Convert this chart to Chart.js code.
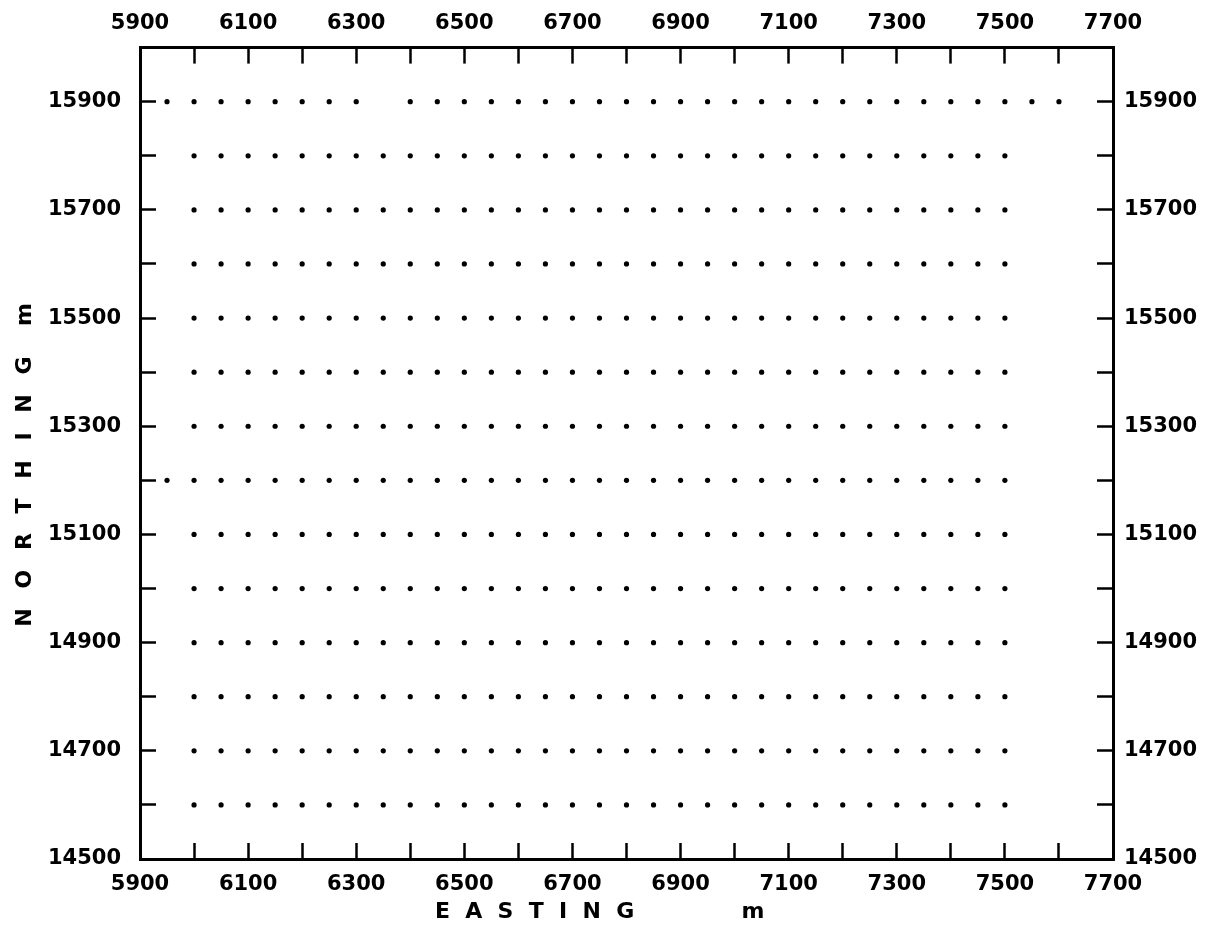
<!DOCTYPE html>
<html>
<head>
<meta charset="utf-8">
<script src="https://cdn.jsdelivr.net/npm/chart.js@4/dist/chart.umd.min.js"></script>
<style>
  html, body { margin: 0; padding: 0; background: #fff; }
</style>
</head>
<body>
<canvas id="survey-chart" width="1218" height="933"></canvas>
<script>
// Survey stations (metres)
const northings = [15900, 15800, 15700, 15600, 15500, 15400, 15300, 15200, 15100, 15000, 14900, 14800, 14700, 14600];

// Stations on a normal line
const lineEastings = [6000, 6050, 6100, 6150, 6200, 6250, 6300, 6350, 6400, 6450, 6500, 6550, 6600, 6650, 6700, 6750,
    6800, 6850, 6900, 6950, 7000, 7050, 7100, 7150, 7200, 7250, 7300, 7350, 7400, 7450, 7500];

// Line 15900 is longer and has a gap at 6350
const topLineEastings = [5950, 6000, 6050, 6100, 6150, 6200, 6250, 6300, 6400, 6450, 6500, 6550, 6600, 6650, 6700,
    6750, 6800, 6850, 6900, 6950, 7000, 7050, 7100, 7150, 7200, 7250, 7300, 7350, 7400, 7450, 7500, 7550, 7600];

// Line 15200 has one more station to the west
const line15200Extra = [5950];

// Labelled ticks
const eastingLabels = [5900, 6100, 6300, 6500, 6700, 6900, 7100, 7300, 7500, 7700];
const northingLabels = [14500, 14700, 14900, 15100, 15300, 15500, 15700, 15900];

const black = '#000';
const fontFamily = "'DejaVu Sans', sans-serif";
const tickFont = { family: fontFamily, size: 21, weight: 'bold' };
const titleFont = { family: fontFamily, size: 22, weight: 'bold' };

// Build point list from the station arrays
const stations = [];
for (const n of northings) {
    let eastings = n === 15900 ? topLineEastings : lineEastings;
    if (n === 15200) eastings = line15200Extra.concat(eastings);
    for (const e of eastings) stations.push({ x: e, y: n });
}

// Spaced-out axis titles (trailing spaces nudge the text off centre like the original)
const sp = (k) => ' '.repeat(k);
const eastingTitle = ['E', 'A', 'S', 'T', 'I', 'N', 'G'].join(sp(2)) + sp(14) + 'm' + sp(7);
const northingTitle = ['N', 'O', 'R', 'T', 'H', 'I', 'N', 'G'].join(sp(2) + '\u2009') + sp(4) + 'm' + sp(3);

/**
 * Axis with a heavy frame line and short ticks pointing into the plot
 */
function frameAxis(axis, position, min, max, labels, labelPadding, size) {
    return {
        type: 'linear',
        axis,
        position,
        min,
        max,
        border: { display: true, color: black, width: 3 },
        grid: {
            drawOnChartArea: false,
            drawTicks: true,
            tickLength: -16,
            tickColor: black,
            tickWidth: 2.5
        },
        ticks: {
            stepSize: 100,
            autoSkip: false,
            maxTicksLimit: 100,
            maxRotation: 0,
            minRotation: 0,
            padding: labelPadding,
            color: black,
            font: tickFont,
            callback: (value) => labels.includes(value) ? String(value) : ''
        },
        afterFit: (scale) => {
            if (axis === 'x') scale.height = size;
            else scale.width = size;
        }
    };
}

const xAxis = frameAxis('x', 'bottom', 5900, 7700, eastingLabels, 29, 74);
xAxis.title = { display: true, text: eastingTitle, color: black, font: titleFont, padding: { top: 0, bottom: 8 } };

const yAxis = frameAxis('y', 'left', 14500, 16000, northingLabels, 35, 140);
yAxis.title = { display: true, text: northingTitle, color: black, font: titleFont, padding: { top: 12, bottom: 0 } };

new Chart(document.getElementById('survey-chart'), {
    type: 'scatter',
    data: {
        datasets: [{
            data: stations,
            pointRadius: 2.6,
            pointBackgroundColor: black,
            pointBorderWidth: 0,
            pointHoverRadius: 2.6
        }]
    },
    options: {
        responsive: false,
        animation: false,
        layout: { padding: 0 },
        plugins: {
            legend: { display: false },
            tooltip: { enabled: false }
        },
        scales: {
            x: xAxis,
            x2: frameAxis('x', 'top', 5900, 7700, eastingLabels, 27, 47),
            y: yAxis,
            y2: frameAxis('y', 'right', 14500, 16000, northingLabels, 27, 105)
        }
    }
});
</script>
</body>
</html>
